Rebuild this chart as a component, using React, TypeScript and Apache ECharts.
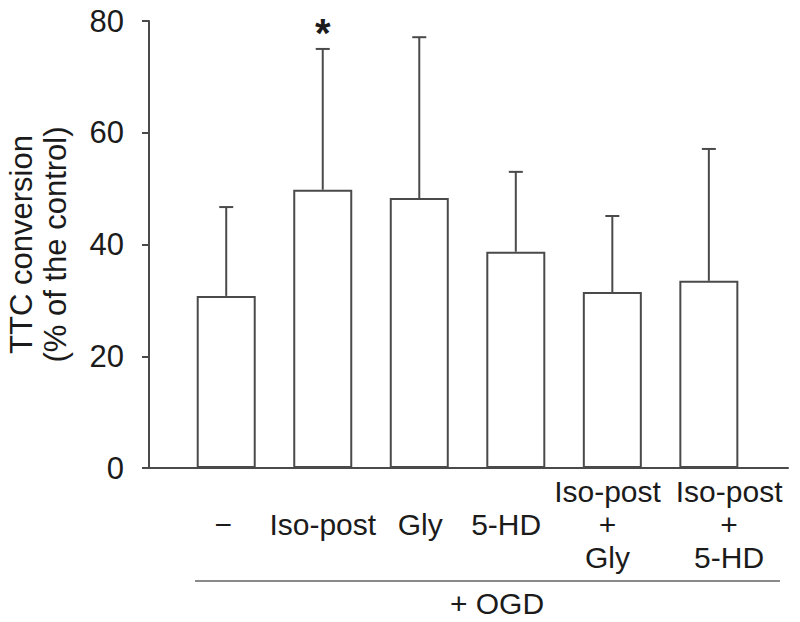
import React, { useEffect, useRef } from "react";
import * as echarts from "echarts";

// ---- data ----
const CATEGORIES = ["−", "Iso-post", "Gly", "5-HD", "Iso-post\n+\nGly", "Iso-post\n+\n5-HD"];
const MEANS = [30.8, 49.8, 48.3, 38.7, 31.5, 33.5];
const SD = [15.9, 25.2, 28.8, 14.3, 13.6, 23.6];
const SIGNIFICANCE = ["", "*", "", "", "", ""];
const Y_TICKS = [0, 20, 40, 60, 80];
const Y_TITLE = "TTC conversion\n(% of the control)";
const GROUP_LABEL = "+ OGD";

// ---- layout (label placement offsets, in category units) ----
const LABEL_POS = [-0.03, 1.0, 2.01, 2.9, 3.95, 5.21];

const FONT = "'Liberation Sans', Arial, Helvetica, sans-serif";
const INK = "#1b1b1b";
const LINE = "#4a4a4a";

export default function App() {
  const ref = useRef<HTMLDivElement>(null);

  useEffect(() => {
    document.body.style.margin = "0";
    if (!ref.current) return;
    const chart = echarts.init(ref.current, undefined, { renderer: "svg" });

    const barData = MEANS.map((m, i) => [i, m]);
    const errData = MEANS.map((m, i) => [i, m, SD[i]]);

    chart.setOption({
      animation: false,
      backgroundColor: "#ffffff",
      textStyle: { fontFamily: FONT },
      grid: {
        left: 149,
        right: 12,
        top: 21,
        bottom: 154,
        containLabel: false,
        outerBoundsMode: "none",
      },
      xAxis: {
        type: "value",
        min: -0.8,
        max: 5.82,
        splitLine: { show: false },
        axisLine: { show: true, onZero: false, lineStyle: { color: LINE, width: 2 } },
        axisTick: { show: false },
        axisLabel: {
          customValues: LABEL_POS,
          formatter: (v: number) => CATEGORIES[Math.round(v)] ?? "",
          fontSize: 30,
          lineHeight: 33,
          color: INK,
          fontFamily: FONT,
          margin: 56,
          verticalAlign: "middle",
        },
      },
      yAxis: {
        type: "value",
        min: Y_TICKS[0],
        max: Y_TICKS[Y_TICKS.length - 1],
        interval: 20,
        splitLine: { show: false },
        axisLine: { show: true, onZero: false, lineStyle: { color: LINE, width: 2 } },
        axisTick: { show: true, length: 7, lineStyle: { color: LINE, width: 2 } },
        axisLabel: { fontSize: 31, color: INK, fontFamily: FONT, margin: 25 },
        name: Y_TITLE,
        nameLocation: "middle",
        nameGap: 77,
        nameTextStyle: { fontSize: 31, lineHeight: 34, color: INK, fontFamily: FONT },
      },
      series: [
        {
          type: "bar",
          data: barData,
          barWidth: 59,
          itemStyle: { color: "#ffffff", borderColor: LINE, borderWidth: 2 },
          z: 2,
        },
        {
          type: "custom",
          data: errData,
          z: 3,
          renderItem: (params: any, api: any) => {
            const x = api.value(0);
            const mean = api.value(1);
            const sd = api.value(2);
            const base = api.coord([x, mean]);
            const top = api.coord([x, mean + sd]);
            const children: any[] = [
              {
                type: "line",
                shape: { x1: base[0], y1: base[1], x2: top[0], y2: top[1] },
                style: { stroke: LINE, lineWidth: 2 },
              },
              {
                type: "line",
                shape: { x1: top[0] - 7, y1: top[1], x2: top[0] + 7, y2: top[1] },
                style: { stroke: LINE, lineWidth: 2 },
              },
            ];
            const sig = SIGNIFICANCE[params.dataIndex];
            if (sig) {
              children.push({
                type: "text",
                style: {
                  text: sig,
                  x: top[0],
                  y: top[1] - 16,
                  align: "center",
                  verticalAlign: "middle",
                  fontSize: 40,
                  fontWeight: "bold",
                  fontFamily: FONT,
                  fill: INK,
                },
              });
            }
            return { type: "group", children };
          },
        },
      ],
      graphic: [
        {
          type: "line",
          shape: { x1: 195, y1: 581, x2: 780, y2: 581 },
          style: { stroke: "#8a8a8a", lineWidth: 2 },
        },
        {
          type: "text",
          x: 497,
          y: 603,
          style: {
            text: GROUP_LABEL,
            align: "center",
            verticalAlign: "middle",
            fontSize: 30,
            fontFamily: FONT,
            fill: INK,
          },
        },
      ],
    });

    return () => chart.dispose();
  }, []);

  return <div ref={ref} style={{ width: 800, height: 622 }} />;
}
